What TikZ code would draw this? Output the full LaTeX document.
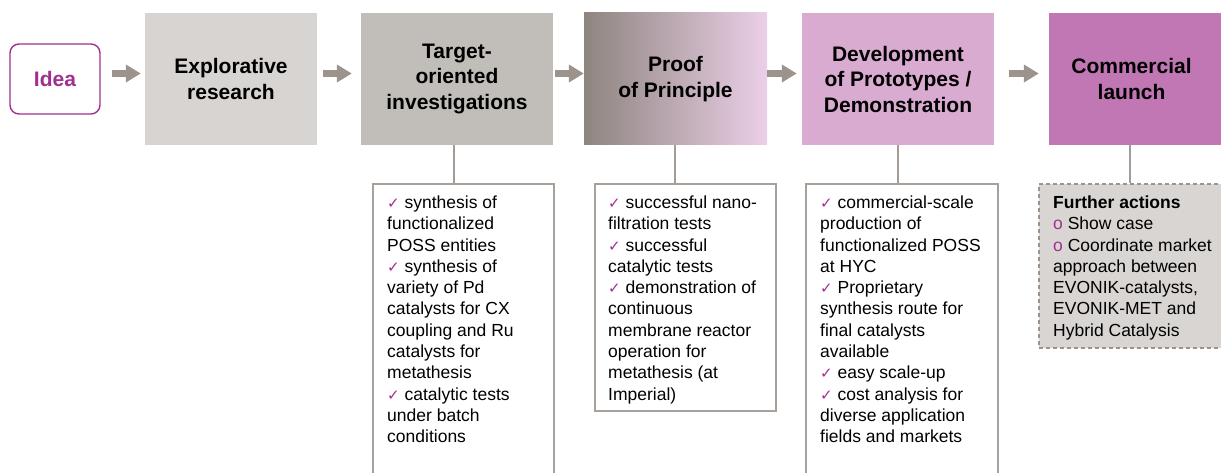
\documentclass[tikz,border=0pt]{standalone}
\usepackage{fontspec}
\setmainfont{Liberation Sans}
\newfontfamily\ckfont{DejaVu Sans}
\usetikzlibrary{arrows.meta}
\definecolor{ideac}{HTML}{A0308F}
\definecolor{arrc}{HTML}{9B938C}
\definecolor{explc}{HTML}{D8D4D1}
\definecolor{tgtc}{HTML}{C1BDB8}
\definecolor{proofl}{HTML}{8E857F}
\definecolor{proofr}{HTML}{EBCFE7}
\definecolor{devc}{HTML}{D9ABD1}
\definecolor{commc}{HTML}{C277B5}
\definecolor{linec}{HTML}{A39B95}
\definecolor{boxc}{HTML}{A8A09A}
\definecolor{furc}{HTML}{D9D5D2}
\newcommand\ck{{\ckfont\fontsize{15}{15}\selectfont\color{ideac}\char"2713}\ }
\newcommand\ob{{\color{ideac}o}\ }
\newcommand\bodytext[1]{\parbox[t]{200pt}{\fontsize{17.5}{21.3}\selectfont\raggedright\leavevmode #1}}
\begin{document}
\begin{tikzpicture}[x=1pt,y=-1pt,
  stage/.style={rectangle, inner sep=0pt, align=center, font=\fontsize{21}{25.5}\selectfont\bfseries, minimum height=132pt},
  arr/.style={arrc, line width=6.5pt, -{Triangle[length=15pt,width=17pt]}},
  conn/.style={linec, line width=1.2pt},
  tbox/.style={draw=boxc, line width=1.2pt, fill=white, inner sep=0pt},
  txt/.style={anchor=base west, inner sep=0pt, align=left}]
\useasboundingbox (0,0) rectangle (1221,473);
% stages
\node[draw=ideac, line width=1.4pt, rounded corners=9pt, minimum width=90pt, minimum height=70pt, inner sep=0pt,
      text=ideac, font=\fontsize{21}{25.5}\selectfont\bfseries] (idea) at (55,79) {Idea};
\node[stage, fill=explc, minimum width=172pt] (expl) at (231,79) {Explorative\\research};
\node[stage, fill=tgtc, minimum width=192pt] (tgt) at (457,79) {Target-\\oriented\\investigations};
\node[stage, left color=proofl, right color=proofr, minimum width=183pt] (proof) at (675.5,79) {Proof\\of Principle};
\node[stage, fill=devc, minimum width=192pt] (dev) at (898,79) {Development\\of Prototypes /\\Demonstration};
\node[stage, fill=commc, minimum width=172pt] (comm) at (1135,79) {\hspace*{-7pt}Commercial\\\hspace*{-7pt}launch};
% arrows
\draw[arr, shorten <=11pt, shorten >=4pt] ([yshift=5.5pt]idea.east) -- ([yshift=5.5pt]idea.east -| expl.west);
\draw[arr, shorten <=6pt, shorten >=9pt] ([yshift=5.5pt]expl.east) -- ([yshift=5.5pt]expl.east -| tgt.west);
\draw[arr, shorten <=2pt, shorten >=0pt] ([yshift=5.5pt]tgt.east) -- ([yshift=5.5pt]tgt.east -| proof.west);
\draw[arr, shorten <=0pt, shorten >=5pt] ([yshift=5.5pt]proof.east) -- ([yshift=5.5pt]proof.east -| dev.west);
\draw[arr, shorten <=15pt, shorten >=10pt] ([yshift=5.5pt]dev.east) -- ([yshift=5.5pt]dev.east -| comm.west);
% text boxes
\node[tbox, minimum width=181pt, minimum height=296pt] (b1) at (463.5,332) {};
\node[tbox, minimum width=181pt, minimum height=227pt] (b2) at (685.5,297.5) {};
\node[tbox, minimum width=192pt, minimum height=296pt] (b3) at (902,332) {};
\node[draw=arrc, line width=1.1pt, dash pattern=on 4pt off 3pt, fill=furc, inner sep=0pt, minimum width=186pt, minimum height=164pt] (b4) at (1132,266) {};
% connector lines
\draw[conn] ([xshift=-3pt]tgt.south) -- ([xshift=-3pt]tgt.south |- b1.north);
\draw[conn] ([xshift=-0.5pt]proof.south) -- ([xshift=-0.5pt]proof.south |- b2.north);
\draw[conn] (dev.south) -- (dev.south |- b3.north);
\draw[conn] ([xshift=-5pt]comm.south) -- ([xshift=-5pt]comm.south |- b4.north);
% texts
\node[txt] (t1) at (387,208.5) {\bodytext{\ck synthesis of\\functionalized\\POSS entities\\\ck synthesis of\\variety of Pd\\catalysts for CX\\coupling and Ru\\catalysts for\\metathesis\\\ck catalytic tests\\under batch\\conditions}};
\node[txt] (t2) at (608,208.5) {\bodytext{\ck successful nano-\\filtration tests\\\ck successful\\catalytic tests\\\ck demonstration of\\continuous\\membrane reactor\\operation for\\metathesis (at\\Imperial)}};
\node[txt] (t3) at (820,208.5) {\bodytext{\ck commercial-scale\\production of\\functionalized POSS\\at HYC\\\ck Proprietary\\synthesis route for\\final catalysts\\available\\\ck easy scale-up\\\ck cost analysis for\\diverse application\\fields and markets}};
\node[txt] (t4) at (1053,208.5) {\bodytext{\textbf{Further actions}\\\ob Show case\\\ob Coordinate market\\approach between\\EVONIK-catalysts,\\EVONIK-MET and\\Hybrid Catalysis}};
\end{tikzpicture}
\end{document}
